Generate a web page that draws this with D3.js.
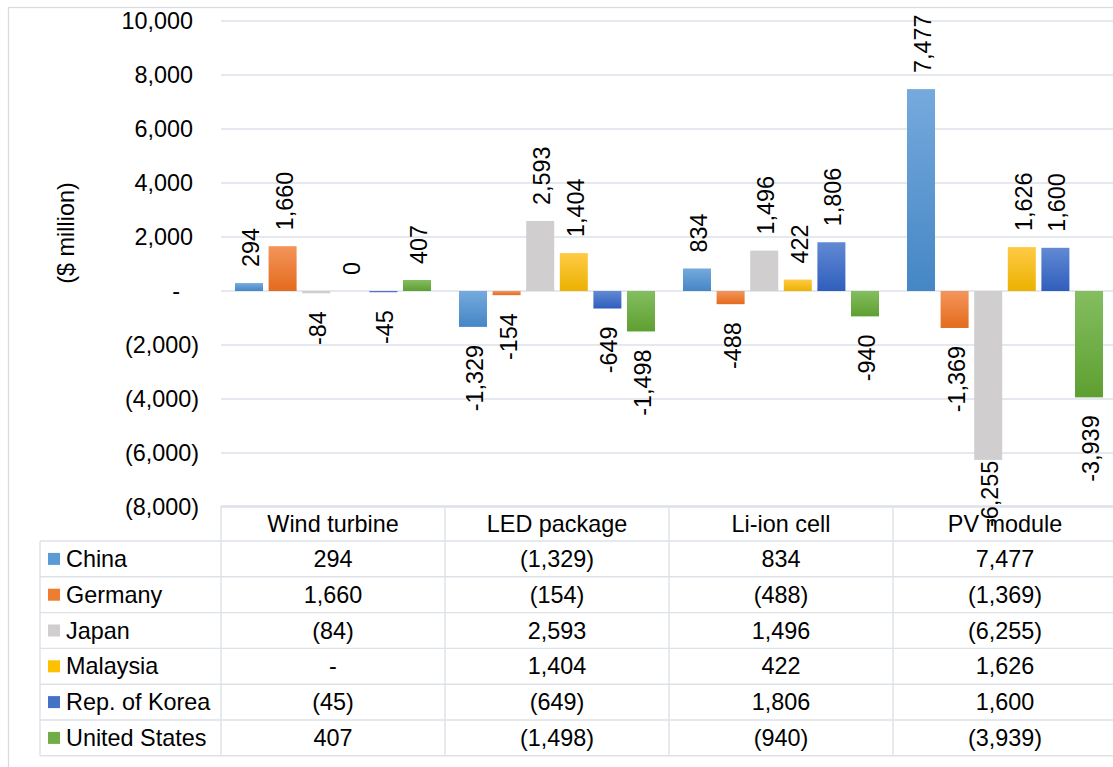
<!DOCTYPE html>
<html>
<head>
<meta charset="utf-8">
<script src="https://cdn.jsdelivr.net/npm/d3@7"></script>
<style>
  body { margin: 0; background: #fff; }
  text { font-family: "Liberation Sans", Arial, sans-serif; fill: #000; }
</style>
</head>
<body>
<div id="chart"></div>
<script>
var categories = ["Wind turbine", "LED package", "Li-ion cell", "PV module"];
var countries = ["China", "Germany", "Japan", "Malaysia", "Rep. of Korea", "United States"];

var china = [294, -1329, 834, 7477];
var germany = [1660, -154, -488, -1369];
var japan = [-84, 2593, 1496, -6255];
var malaysia = [0, 1404, 422, 1626];
var korea = [-45, -649, 1806, 1600];
var unitedStates = [407, -1498, -940, -3939];

var yTicks = [-8000, -6000, -4000, -2000, 0, 2000, 4000, 6000, 8000, 10000];

var seriesValues = [china, germany, japan, malaysia, korea, unitedStates];

// top / bottom colours of each bar gradient
var colorTop = ["#75aadd", "#f4955b", "#d0cece", "#ffca45", "#6289d3", "#84be60"];
var colorBottom = ["#4586c5", "#e36b1d", "#d0cece", "#ebb200", "#2f5ebc", "#5e9f31"];
var keyColor = ["#5b9bd5", "#ed7d31", "#d0cece", "#ffc000", "#4472c4", "#70ad47"];

var svgWidth = 1113;
var svgHeight = 767;
var fontSize = 23.4;
var gridColor = "#dde1e8";

var plot = { left: 221, right: 1117, top: 21, bottom: 507 };

// plain hyphen for negatives, like the original
var locale = d3.formatLocale({
  decimal: ".", thousands: ",", grouping: [3], currency: ["$", ""], minus: "-"
});
var fmt = locale.format(",");

function acct(v) {
  if (v === 0) return "-";
  if (v < 0) return "(" + fmt(-v) + ")";
  return fmt(v);
}

var svg = d3.select("#chart")
  .append("svg")
  .attr("width", svgWidth)
  .attr("height", svgHeight);

svg.append("rect")
  .attr("width", svgWidth).attr("height", svgHeight)
  .attr("fill", "#fff");

// chart area border
svg.append("rect")
  .attr("x", 8.5).attr("y", 7.5)
  .attr("width", 1200).attr("height", 800)
  .attr("fill", "none")
  .attr("stroke", "#d9dde3")
  .attr("stroke-width", 1.3);

var defs = svg.append("defs");
countries.forEach(function(c, i) {
  var g = defs.append("linearGradient")
    .attr("id", "grad" + i)
    .attr("x1", 0).attr("y1", 0).attr("x2", 0).attr("y2", 1);
  g.append("stop").attr("offset", "0%").attr("stop-color", colorTop[i]);
  g.append("stop").attr("offset", "100%").attr("stop-color", colorBottom[i]);
});

var x0 = d3.scaleBand()
  .domain(categories)
  .range([plot.left, plot.right])
  .padding(0);

// gap width 100%, overlap -20%
var x1 = d3.scaleBand()
  .domain(countries)
  .range([0, x0.bandwidth()])
  .paddingInner(1 - 1 / 1.2)
  .paddingOuter(0.4167);

var y = d3.scaleLinear()
  .domain([-8000, 10000])
  .range([plot.bottom, plot.top]);

// gridlines
svg.append("g")
  .selectAll("line")
  .data(yTicks)
  .enter()
  .append("line")
  .attr("x1", plot.left)
  .attr("x2", plot.right)
  .attr("y1", function(d) { return y(d); })
  .attr("y2", function(d) { return y(d); })
  .attr("stroke", gridColor)
  .attr("stroke-width", 1.4);

var leftAxis = d3.axisLeft(y)
  .tickValues(yTicks)
  .tickSize(0)
  .tickPadding(0)
  .tickFormat(acct);

var axisG = svg.append("g")
  .attr("transform", "translate(199, 0)")
  .call(leftAxis);
axisG.select(".domain").remove();
axisG.selectAll("text")
  .attr("font-size", fontSize)
  .attr("font-family", "Liberation Sans, Arial, sans-serif")
  .attr("fill", "#000")
  .attr("x", function(d) { return d === 0 ? -19 : (d > 0 ? -6 : 0); });

svg.append("text")
  .attr("transform", "translate(74, 233) rotate(-90)")
  .attr("text-anchor", "middle")
  .attr("font-size", fontSize)
  .text("($ million)");

// bars
var rows = [];
countries.forEach(function(c, i) {
  categories.forEach(function(cat, j) {
    rows.push({ country: c, idx: i, cat: cat, value: seriesValues[i][j] });
  });
});

svg.append("g")
  .selectAll("rect")
  .data(rows)
  .enter()
  .append("rect")
  .attr("x", function(d) { return x0(d.cat) + x1(d.country); })
  .attr("y", function(d) { return y(Math.max(0, d.value)); })
  .attr("width", x1.bandwidth())
  .attr("height", function(d) { return Math.abs(y(d.value) - y(0)); })
  .attr("fill", function(d) { return "url(#grad" + d.idx + ")"; });

// data labels, rotated
var labelG = svg.append("g");
rows.forEach(function(d) {
  var cx = x0(d.cat) + x1(d.country) + x1.bandwidth() / 2 + 10;
  var t = labelG.append("text")
    .attr("font-size", fontSize)
    .text(fmt(d.value));
  var len = t.node().getComputedTextLength();
  var ly, anchor;
  if (d.value >= 0) {
    ly = y(d.value) - 16;
    anchor = "start";
  } else {
    ly = y(d.value) + 18;
    if (ly + len > 527) ly = 527 - len;
    anchor = "end";
  }
  t.attr("text-anchor", anchor)
    .attr("transform", "translate(" + cx + "," + ly + ") rotate(-90)");
});

// data table
var headerTop = 506;
var rowTop = 541;
var rowH = 35.8;
var legendLeft = 40;
var tableBottom = rowTop + rowH * countries.length;

var table = svg.append("g");

table.append("line")
  .attr("x1", plot.left).attr("x2", plot.right)
  .attr("y1", headerTop).attr("y2", headerTop)
  .attr("stroke", gridColor).attr("stroke-width", 1.4);

d3.range(countries.length + 1).forEach(function(k) {
  var yy = rowTop + k * rowH;
  table.append("line")
    .attr("x1", legendLeft).attr("x2", plot.right)
    .attr("y1", yy).attr("y2", yy)
    .attr("stroke", gridColor).attr("stroke-width", 1.4);
});

table.append("line")
  .attr("x1", legendLeft).attr("x2", legendLeft)
  .attr("y1", rowTop).attr("y2", tableBottom)
  .attr("stroke", gridColor).attr("stroke-width", 1.4);

categories.forEach(function(cat) {
  table.append("line")
    .attr("x1", x0(cat)).attr("x2", x0(cat))
    .attr("y1", headerTop).attr("y2", tableBottom)
    .attr("stroke", gridColor).attr("stroke-width", 1.4);
});

table.selectAll(".head")
  .data(categories)
  .enter()
  .append("text")
  .attr("class", "head")
  .attr("x", function(d) { return x0(d) + x0.bandwidth() / 2; })
  .attr("y", (headerTop + rowTop) / 2)
  .attr("dy", "0.35em")
  .attr("text-anchor", "middle")
  .attr("font-size", fontSize)
  .text(function(d) { return d; });

countries.forEach(function(c, i) {
  var cy = rowTop + i * rowH + rowH / 2;
  table.append("rect")
    .attr("x", 48).attr("y", cy - 6)
    .attr("width", 12).attr("height", 12)
    .attr("fill", keyColor[i]);
  table.append("text")
    .attr("x", 66).attr("y", cy)
    .attr("dy", "0.35em")
    .attr("font-size", fontSize)
    .text(c);
  categories.forEach(function(cat, j) {
    table.append("text")
      .attr("x", x0(cat) + x0.bandwidth() / 2)
      .attr("y", cy)
      .attr("dy", "0.35em")
      .attr("text-anchor", "middle")
      .attr("font-size", fontSize)
      .text(acct(seriesValues[i][j]));
  });
});
</script>
</body>
</html>
